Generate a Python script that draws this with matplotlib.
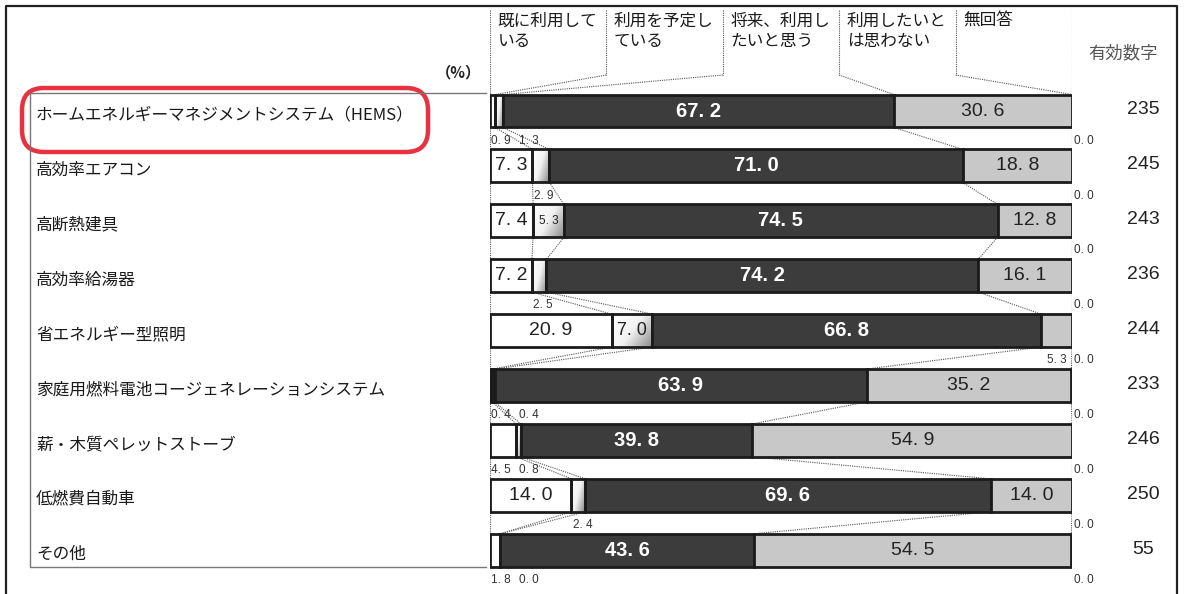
import numpy as np
import matplotlib.pyplot as plt
from matplotlib.colors import LinearSegmentedColormap
from matplotlib.patches import FancyBboxPatch
from matplotlib.transforms import blended_transform_factory, IdentityTransform
from matplotlib.lines import Line2D

plt.rcParams['font.family'] = ['Noto Sans CJK JP', 'DejaVu Sans']
NUM = ['Liberation Sans', 'DejaVu Sans']

# ---- data ---------------------------------------------------------------
items = [
    "ホームエネルギーマネジメントシステム（HEMS）",
    "高効率エアコン",
    "高断熱建具",
    "高効率給湯器",
    "省エネルギー型照明",
    "家庭用燃料電池コージェネレーションシステム",
    "薪・木質ペレットストーブ",
    "低燃費自動車",
    "その他",
]
already_using = [0.9, 7.3, 7.4, 7.2, 20.9, 0.4, 4.5, 14.0, 1.8]
planning = [1.3, 2.9, 5.3, 2.5, 7.0, 0.4, 0.8, 2.4, 0.0]
want_future = [67.2, 71.0, 74.5, 74.2, 66.8, 63.9, 39.8, 69.6, 43.6]
not_want = [30.6, 18.8, 12.8, 16.1, 5.3, 35.2, 54.9, 14.0, 54.5]
no_answer = [0.0, 0.0, 0.0, 0.0, 0.0, 0.0, 0.0, 0.0, 0.0]
valid_n = [235, 245, 243, 236, 244, 233, 246, 250, 55]
headers = ["既に利用して\nいる", "利用を予定し\nている", "将来、利用し\nたいと思う",
           "利用したいと\nは思わない", "無回答"]

# ---- layout -------------------------------------------------------------
W, H = 1184, 594
ROW_PX, FIRST_PX = 54.9, 111.0
BAR_H = 0.6

fig = plt.figure(figsize=(W / 100, H / 100), dpi=100)
ax = fig.add_axes([490 / W, 0, 582 / W, 1])


def py(px):
    """vertical pixel position -> row units"""
    return (px - FIRST_PX) / ROW_PX


def fx(px):
    return px / W


def fy(px):
    return 1 - px / H


values = np.array([already_using, planning, want_future, not_want, no_answer]).T
lefts = np.hstack([np.zeros((len(items), 1)), np.cumsum(values, axis=1)[:, :-1]])
rights = lefts + values
rows = np.arange(len(items))

EDGE = '#1b1b1b'
fills = ['white', None, '#3c3c3c', '#c8c8c8', '#e8e8e8']
grad_cmap = LinearSegmentedColormap.from_list('g', ['#ffffff', '#f2f2f2', '#8a8a8a'])
gy, gx = np.mgrid[0:1:40j, 0:1:40j]
grad = gx * 0.75 + gy * 0.45

for k in range(5):
    for i in rows:
        v = values[i, k]
        if v <= 0:
            continue
        if k == 1:
            ax.imshow(grad, cmap=grad_cmap, aspect='auto', interpolation='bilinear',
                      extent=(lefts[i, k], rights[i, k], i + BAR_H / 2, i - BAR_H / 2),
                      zorder=2)
            ax.barh(i, v, left=lefts[i, k], height=BAR_H, facecolor='none',
                    edgecolor=EDGE, linewidth=2.0, zorder=3)
        else:
            ax.barh(i, v, left=lefts[i, k], height=BAR_H, color=fills[k],
                    edgecolor=EDGE, linewidth=2.0, zorder=3)

ax.set_xlim(0, 100)
ax.set_ylim(py(H), py(0))
ax.axis('off')

dot = dict(color='#555555', linewidth=0.8, linestyle=(0, (1, 1)), zorder=1)

# connectors between consecutive bars
for i in rows[:-1]:
    for k in range(4):
        ax.plot([rights[i, k], rights[i + 1, k]],
                [i + BAR_H / 2, i + 1 - BAR_H / 2], **dot)

# header cells and their leads down to the first bar
top_y, low_y = py(10), py(75)
last_bottom = rows[-1] + BAR_H / 2
ax.plot([0, 0], [top_y, last_bottom], **dot)
ax.plot([100, 100], [top_y, last_bottom], **dot)
for k in range(1, 5):
    xb = 20 * k
    ax.plot([xb, xb], [top_y, low_y], **dot)
    ax.plot([xb, rights[0, k - 1]], [low_y, -BAR_H / 2], **dot)
for k, h in enumerate(headers):
    ax.text(20 * k + 1.3, py(13), h, ha='left', va='top', fontsize=12,
            color='#1a1a1a', linespacing=1.2)


def fmt(v):
    return f"{v:.1f}".replace(".", ". ")


below = BAR_H / 2 + 0.24
for i in rows:
    next_free = 0.0
    for k in range(5):
        v = values[i, k]
        c = lefts[i, k] + v / 2
        if k in (0, 1):
            if v >= 5:
                size = 8.5 if v < 6 else (13 if k == 1 else 14)
                ax.text(c, i, fmt(v), ha='center', va='center', fontsize=size,
                        family=NUM, color='#222222', zorder=5)
            else:
                x = max(lefts[i, k], next_free) + 0.2
                ax.text(x, i + below, fmt(v), ha='left', va='center', fontsize=8.5,
                        family=NUM, color='#333333', zorder=5)
                next_free = x + 4.6
        elif k == 2:
            ax.text(c, i, fmt(v), ha='center', va='center', fontsize=14.5,
                    fontweight='bold', family=NUM, color='white', zorder=5)
        elif k == 3:
            if v >= 10:
                ax.text(c, i, fmt(v), ha='center', va='center', fontsize=14,
                        family=NUM, color='#222222', zorder=5)
            else:
                ax.text(99.0, i + below, fmt(v), ha='right', va='center',
                        fontsize=8.5, family=NUM, color='#333333', zorder=5)
        else:
            ax.text(100.35, i + below, fmt(v), ha='left', va='center', fontsize=8.5,
                    family=NUM, color='#333333', zorder=5)

# item names and valid counts
lab_tr = blended_transform_factory(fig.transFigure, ax.transData)
for i, name in zip(rows, items):
    ax.text(fx(36), i + 0.08, name, transform=lab_tr, ha='left', va='center',
            fontsize=12, color='#1a1a1a')
for i, n in zip(rows, valid_n):
    ax.text(fx(1143), i - 0.02, str(n), transform=lab_tr, ha='center', va='center',
            fontsize=14, family=NUM, color='#222222')
ax.text(fx(1123), py(53), "有効数字", transform=lab_tr, ha='center', va='center',
        fontsize=12.5, color='#555555')
ax.text(fx(458), py(72), "（%）", transform=lab_tr, ha='center', va='center',
        fontsize=11, fontweight='bold', color='#222222')

# frame and label panel
fig.add_artist(Line2D([fx(6), fx(6), fx(1177), fx(1177)],
                      [fy(594), fy(6), fy(6), fy(594)],
                      transform=fig.transFigure, color='#222222', linewidth=1.6))
fig.add_artist(Line2D([fx(486), fx(30), fx(30), fx(486)],
                      [fy(93), fy(93), fy(567), fy(567)],
                      transform=fig.transFigure, color='#777777', linewidth=1.0))

# highlight around the first item
fig.add_artist(FancyBboxPatch((22, H - 152), 406, 64,
                              boxstyle="round,pad=0,rounding_size=22",
                              transform=IdentityTransform(), facecolor='none',
                              edgecolor='#e8323f', linewidth=3.2))

fig.savefig('out.png', dpi=100)
